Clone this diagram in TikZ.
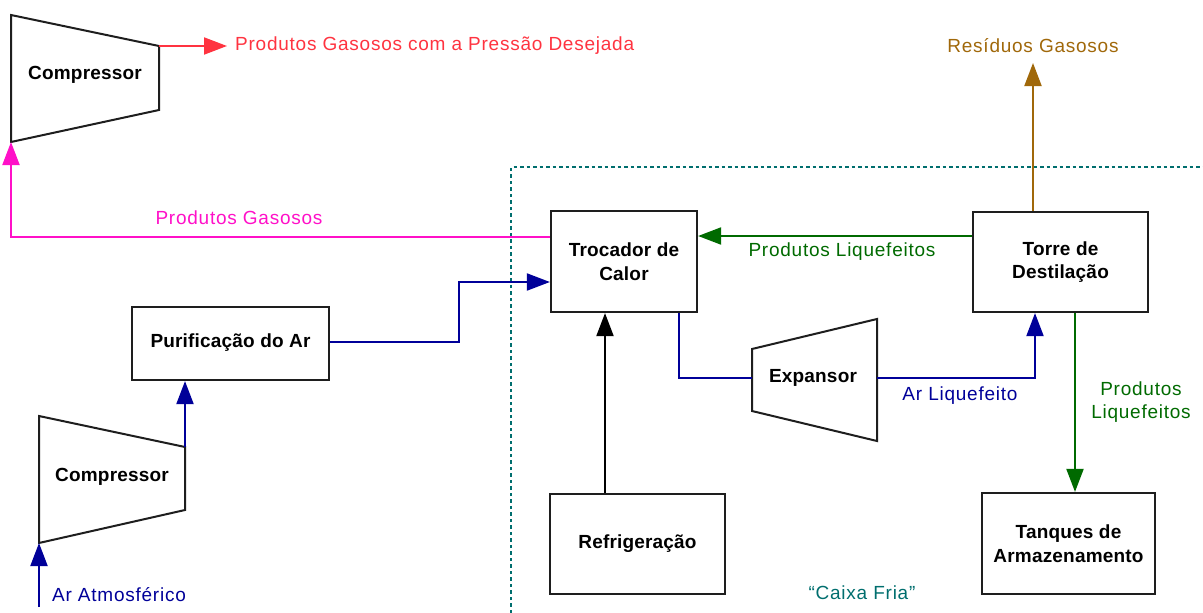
\documentclass[tikz,border=0pt]{standalone}
\usepackage{fontspec}
\setmainfont{Liberation Sans}
\newfontfamily\lblfont[LetterSpace=4]{Liberation Sans}
\newfontfamily\boxfont[LetterSpace=1]{Liberation Sans}
\usetikzlibrary{arrows.meta,calc}
\definecolor{cred}{HTML}{FF3340}
\definecolor{cmag}{HTML}{FF10C8}
\definecolor{cblue}{HTML}{000099}
\definecolor{cgreen}{HTML}{006A00}
\definecolor{cbrown}{HTML}{A0680A}
\definecolor{cteal}{HTML}{006E6E}
\definecolor{cline}{HTML}{1E1E1E}
\tikzset{
  box/.style={draw=cline,line width=2.2pt,rectangle,align=center,font=\boxfont\fontsize{19}{23.5}\selectfont\bfseries,inner sep=0pt},
  trap/.style={draw=cline,line width=2pt,line join=miter},
  btxt/.style={font=\boxfont\fontsize{19}{23.5}\selectfont\bfseries,inner sep=0pt},
  ltxt/.style={font=\lblfont\fontsize{19}{23}\selectfont,inner sep=0pt,align=center},
  flow/.style={line width=2pt,-{Triangle[length=23pt,width=17pt]}},
  plain/.style={line width=2pt}
}
\begin{document}
\begin{tikzpicture}[x=1pt,y=-1pt]
\useasboundingbox (0,0) rectangle (1203,613);
% cold box
\draw[cteal,line width=2pt,dash pattern=on 3.5pt off 3pt] (511,613) -- (511,167) -- (1203,167);
% top compressor
\coordinate (c1tl) at (11,15); \coordinate (c1tr) at (159,46);
\coordinate (c1br) at (159,110); \coordinate (c1bl) at (11,142);
\draw[trap] (c1tl) -- (c1tr) -- (c1br) -- (c1bl) -- cycle;
\node[btxt] (c1) at (85,75) {Compressor};
% bottom compressor
\coordinate (c2tl) at (39,416); \coordinate (c2tr) at (185,447);
\coordinate (c2br) at (185,510); \coordinate (c2bl) at (39,543);
\draw[trap] (c2tl) -- (c2tr) -- (c2br) -- (c2bl) -- cycle;
\node[btxt] (c2) at (112,477) {Compressor};
% expansor
\coordinate (etl) at (752,349); \coordinate (etr) at (877,319);
\coordinate (ebr) at (877,441); \coordinate (ebl) at (752,411);
\draw[trap] (etl) -- (etr) -- (ebr) -- (ebl) -- cycle;
\node[btxt] (exp) at (813,378) {Expansor};
\coordinate (ein) at (752,378); \coordinate (eout) at (877,378);
% boxes
\node[box,minimum width=197pt,minimum height=73pt] (pur) at (230.5,343.5) {\raisebox{6pt}{Purificação do Ar}};
\node[box,minimum width=146pt,minimum height=101pt] (troc) at (624,261.5) {Trocador de\\Calor};
\node[box,minimum width=175pt,minimum height=100pt] (torre) at (1060.5,262) {Torre de\\Destilação};
\node[box,minimum width=175pt,minimum height=100pt] (ref) at (637.5,544) {\raisebox{4pt}{Refrigeração}};
\node[box,minimum width=173pt,minimum height=101pt] (tanq) at (1068.5,543.5) {Tanques de\\Armazenamento};
% labels
\coordinate (redtip) at (227,46);
\node[ltxt,text=cred,anchor=west] (lred) at (235,46) {Produtos Gasosos com a Pressão Desejada};
\node[ltxt,text=cmag] (lmag) at (239,218) {Produtos Gasosos};
\node[ltxt,text=cblue,anchor=west] (latm) at (52,595) {Ar Atmosférico};
\coordinate (atmstart) at (39,607);
\node[ltxt,text=cgreen] (lpl) at (842,252) {Produtos Liquefeitos};
\node[ltxt,text=cbrown] (lres) at (1033,46) {Resíduos Gasosos};
\coordinate (restip) at (1033,63);
\node[ltxt,text=cgreen] (lpl2) at (1141,402) {Produtos\\Liquefeitos};
\node[ltxt,text=cblue] (lal) at (960,396) {Ar Liquefeito};
\node[ltxt,text=cteal] (lcf) at (862,593) {“Caixa Fria”};
% connectors
\draw[flow,cred] (c1tr) -- (redtip);
\draw[flow,cmag] ([yshift=24.5pt]troc.west) -| (c1bl);
\draw[flow,cblue] (atmstart) -- (c2bl);
\draw[flow,cblue] (c2tr) -- (c2tr |- pur.south);
\draw[flow,cblue] ([yshift=1.5pt]pur.east) -- ++(129,0) |- ([yshift=-20.5pt]troc.west);
\draw[flow,black] (ref.north -| 605,0) -- (troc.south -| 605,0);
\draw[plain,cblue] (troc.south -| 679,0) |- (ein);
\draw[flow,cblue] (eout) -| (torre.south -| 1035,0);
\draw[flow,cgreen] ([yshift=26pt]torre.west) -- ([yshift=25.5pt]troc.east);
\draw[flow,cbrown] (torre.north -| restip) -- (restip);
\draw[flow,cgreen] (torre.south -| 1075,0) -- (tanq.north -| 1075,0);
\end{tikzpicture}
\end{document}
